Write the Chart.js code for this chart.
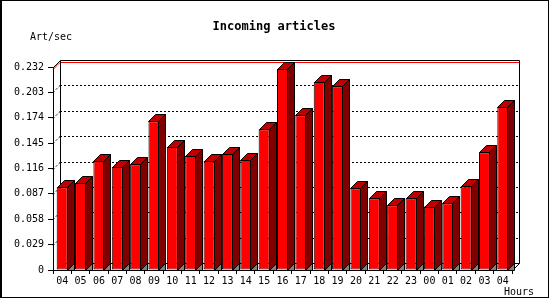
<!DOCTYPE html>
<html lang="en">
<head>
<meta charset="UTF-8">
<title>Incoming articles</title>
<script src="https://cdn.jsdelivr.net/npm/chart.js"></script>
<style>
    body { margin: 0; background: #fff; }
    canvas { display: block; }
</style>
</head>
<body>
<canvas id="articlesChart" width="550" height="300"></canvas>
<script>
// hours of the day (last 24h) and articles per second
var hours = ['04', '05', '06', '07', '08', '09', '10', '11', '12', '13', '14', '15', '16',
             '17', '18', '19', '20', '21', '22', '23', '00', '01', '02', '03', '04'];
var artPerSec = [0.0947, 0.0993, 0.1245, 0.1176, 0.121, 0.170, 0.1405, 0.1305, 0.1245, 0.1325,
                 0.1256, 0.161, 0.230, 0.177, 0.215, 0.210, 0.0935, 0.0821, 0.0740, 0.0821,
                 0.0725, 0.0763, 0.0958, 0.1347, 0.1866];
var yTicks = [0, 0.029, 0.058, 0.087, 0.116, 0.145, 0.174, 0.203, 0.232];
var yTickLabels = ['0', '0.029', '0.058', '0.087', '0.116', '0.145', '0.174', '0.203', '0.232'];

var DX = 7, DY = -7;   // depth of the 3d effect
var mono = '"DejaVu Sans Mono", monospace';

var threeD = {
    id: 'threeD',
    beforeDatasetsDraw: function (chart) {
        var ctx = chart.ctx, a = chart.chartArea, y = chart.scales.y;
        ctx.save();
        // back plane grid lines (dotted)
        ctx.strokeStyle = '#000';
        ctx.lineWidth = 1;
        ctx.setLineDash([2, 2]);
        yTicks.forEach(function (v) {
            if (v === 0 || v === yTicks[yTicks.length - 1]) return;
            var py = Math.round(y.getPixelForValue(v)) + 0.5;
            ctx.beginPath();
            ctx.moveTo(a.left + DX, py + DY);
            ctx.lineTo(a.right + DX, py + DY);
            ctx.stroke();
            ctx.beginPath();
            ctx.moveTo(a.left, py);
            ctx.lineTo(a.left + DX, py + DY);
            ctx.stroke();
        });
        ctx.setLineDash([]);

        // max line
        var maxVal = Math.max.apply(null, artPerSec);
        var my = Math.round(y.getPixelForValue(maxVal)) + 0.5;
        ctx.strokeStyle = '#ff0000';
        ctx.beginPath();
        ctx.moveTo(a.left, my);
        ctx.lineTo(a.left + DX, my + DY);
        ctx.lineTo(a.right + DX, my + DY);
        ctx.stroke();

        // back plane frame
        ctx.strokeStyle = '#000';
        var l = Math.round(a.left) + 0.5, r = Math.round(a.right) + 0.5;
        var t = Math.round(a.top) + 0.5, b = Math.round(a.bottom) + 0.5;
        ctx.beginPath();
        ctx.moveTo(l, t);
        ctx.lineTo(l + DX, t + DY);
        ctx.lineTo(r + DX, t + DY);
        ctx.lineTo(r + DX, b + DY);
        ctx.lineTo(r, b);
        ctx.moveTo(l + DX, t + DY);
        ctx.lineTo(l + DX, b + DY);
        ctx.lineTo(r + DX, b + DY);
        ctx.stroke();
        ctx.restore();
    },
    afterDatasetsDraw: function (chart) {
        var ctx = chart.ctx;
        var meta = chart.getDatasetMeta(0);
        ctx.save();
        ctx.strokeStyle = '#000';
        ctx.lineWidth = 1;
        meta.data.forEach(function (bar) {
            var p = bar.getProps(['x', 'y', 'base', 'width'], true);
            var xl = Math.round(p.x - p.width / 2) + 0.5;
            var xr = Math.round(p.x + p.width / 2) - 0.5;
            var top = Math.round(p.y) + 0.5;
            var base = Math.round(p.base) + 0.5;
            // side
            ctx.fillStyle = '#800000';
            ctx.beginPath();
            ctx.moveTo(xr, top);
            ctx.lineTo(xr + DX, top + DY);
            ctx.lineTo(xr + DX, base + DY);
            ctx.lineTo(xr, base);
            ctx.closePath();
            ctx.fill();
            ctx.stroke();
            // top
            ctx.fillStyle = '#c00000';
            ctx.beginPath();
            ctx.moveTo(xl, top);
            ctx.lineTo(xl + DX, top + DY);
            ctx.lineTo(xr + DX, top + DY);
            ctx.lineTo(xr, top);
            ctx.closePath();
            ctx.fill();
            ctx.stroke();
            // floor shadow
            ctx.fillStyle = '#808080';
            ctx.beginPath();
            ctx.moveTo(xr, base);
            ctx.lineTo(xr + DX, base + DY);
            ctx.lineTo(xr + DX, base);
            ctx.closePath();
            ctx.fill();
            ctx.stroke();
        });
        ctx.restore();
    },
    afterDraw: function (chart) {
        var ctx = chart.ctx;
        ctx.save();
        ctx.fillStyle = '#000';
        ctx.textBaseline = 'middle';
        ctx.font = 'bold 12px ' + mono;
        ctx.textAlign = 'center';
        ctx.fillText('Incoming articles', 274, 27);
        ctx.font = '10px ' + mono;
        ctx.textAlign = 'left';
        ctx.fillText('Art/sec', 30, 37);
        ctx.fillText('Hours', 504, 292);
        // image frame
        ctx.fillRect(0, 0, 2, 298);
        ctx.fillRect(0, 0, 549, 1);
        ctx.fillRect(548, 0, 1, 298);
        ctx.fillRect(0, 297, 549, 1);
        ctx.restore();
    }
};

var ctxArticles = document.getElementById('articlesChart').getContext('2d');
var articlesChart = new Chart(ctxArticles, {
    type: 'bar',
    data: {
        labels: hours,
        datasets: [{
            data: artPerSec,
            backgroundColor: '#ff0000',
            borderColor: '#000',
            borderWidth: 1,
            borderSkipped: false,
            barPercentage: 0.6,
            categoryPercentage: 1
        }]
    },
    options: {
        responsive: false,
        devicePixelRatio: 1,
        animation: false,
        layout: { padding: { top: 67, right: 38, left: 0, bottom: 0 } },
        plugins: {
            legend: { display: false },
            tooltip: { enabled: false }
        },
        scales: {
            x: {
                afterFit: function (scale) { scale.height = 30; },
                grid: { offset: true, drawOnChartArea: false, tickLength: 4, color: '#000' },
                border: { color: '#000' },
                ticks: {
                    color: '#000',
                    font: { family: mono, size: 10 },
                    padding: 1,
                    maxRotation: 0,
                    autoSkip: false
                }
            },
            y: {
                min: 0,
                max: 0.232,
                afterFit: function (scale) { scale.width = 53; },
                afterBuildTicks: function (scale) {
                    scale.ticks = yTicks.map(function (v) { return { value: v }; });
                },
                grid: { drawOnChartArea: false, tickLength: 5, color: '#000' },
                border: { color: '#000' },
                ticks: {
                    color: '#000',
                    font: { family: mono, size: 10 },
                    padding: 4,
                    callback: function (value, i) { return yTickLabels[i]; }
                }
            }
        }
    },
    plugins: [threeD]
});
</script>
</body>
</html>
